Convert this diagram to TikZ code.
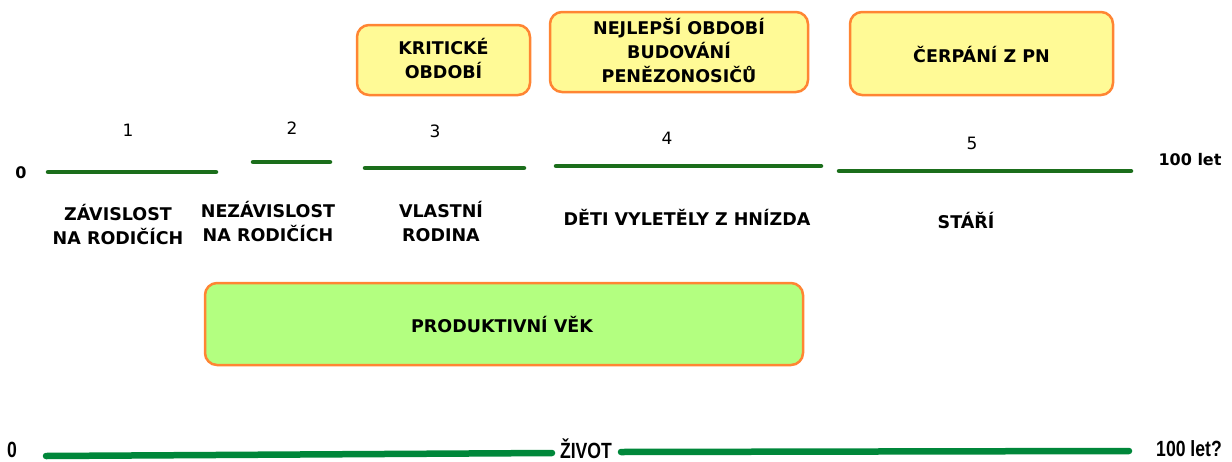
\documentclass[tikz,border=0pt]{standalone}
\usepackage{fontspec}
\setmainfont{DejaVu Sans}
\newfontfamily\arialf{Liberation Sans}
\definecolor{lineg}{HTML}{1B6E1B}
\definecolor{lifeg}{HTML}{00873A}
\definecolor{boxy}{HTML}{FFFA96}
\definecolor{boxg}{HTML}{B3FF80}
\definecolor{boxo}{HTML}{FF8533}
\begin{document}
\begin{tikzpicture}[x=1pt,y=-1pt,
  phase/.style={line width=4.5pt,draw=lineg,line cap=round},
  life/.style={line width=6.5pt,draw=lifeg,line cap=round},
  lbl/.style={font=\fontsize{17.5}{24}\selectfont\bfseries,align=center,inner sep=0pt},
  num/.style={font=\fontsize{17}{19}\selectfont,inner sep=0pt},
  bx/.style={draw=boxo,line width=2.5pt,rounded corners=12pt,fill=boxy},
  bottom/.style={font=\arialf\fontsize{22}{26}\selectfont\bfseries,inner sep=0pt}]
\useasboundingbox (0,0) rectangle (1232,461);
% top boxes
\draw[bx] (357,25) rectangle (530,95);
\node[lbl] (krit) at (443.5,59) {KRITICKÉ\\OBDOBÍ};
\draw[bx] (550,12) rectangle (808,92);
\node[lbl] (nejl) at (679,51) {NEJLEPŠÍ OBDOBÍ\\BUDOVÁNÍ\\PENĚZONOSIČŮ};
\draw[bx] (850,12) rectangle (1113,95);
\node[lbl] (cerp) at (981.5,55) {ČERPÁNÍ Z PN};
% productive age
\draw[bx,fill=boxg] (205,283) rectangle (803,365);
\node[lbl] (prod) at (502,325) {PRODUKTIVNÍ VĚK};
% phase lines
\coordinate (a1) at (48,172); \coordinate (b1) at (216,172);
\coordinate (a2) at (253,162); \coordinate (b2) at (330,162);
\coordinate (a3) at (365,168); \coordinate (b3) at (524,168);
\coordinate (a4) at (556,166); \coordinate (b4) at (821,166);
\coordinate (a5) at (839,171); \coordinate (b5) at (1131,171);
\draw[phase] (a1) -- (b1);
\draw[phase] (a2) -- (b2);
\draw[phase] (a3) -- (b3);
\draw[phase] (a4) -- (b4);
\draw[phase] (a5) -- (b5);
\node[num] (n1) at (128,130) {1};
\node[num] (n2) at (292,128) {2};
\node[num] (n3) at (435,131) {3};
\node[num] (n4) at (667,138) {4};
\node[num] (n5) at (972,143) {5};
\node[lbl,font=\fontsize{16}{20}\selectfont\bfseries] (zero) at (21,173) {0};
\node[lbl,font=\fontsize{16}{20}\selectfont\bfseries] (hund) at (1190,160) {100 let};
\node[lbl] (l1) at (118,225) {ZÁVISLOST\\NA RODIČÍCH};
\node[lbl] (l2) at (268,222) {NEZÁVISLOST\\NA RODIČÍCH};
\node[lbl] (l3) at (441,222) {VLASTNÍ\\RODINA};
\node[lbl] (l4) at (687,217) {DĚTI VYLETĚLY Z HNÍZDA};
\node[lbl] (l5) at (966,221) {STÁŘÍ};
% life line
\node[bottom] (z0) at (12,450) {\scalebox{0.8}[1]{0}};
\node[bottom] (zivot) at (586,449) {\scalebox{0.8}[1]{ŽIVOT}};
\node[bottom] (z100) at (1189,449) {\scalebox{0.8}[1]{100 let?}};
\coordinate (la) at (46,456);
\coordinate (lm1) at (552,453);
\coordinate (lm2) at (621,452);
\coordinate (lb) at (1129,451);
\draw[life] (la) -- (lm1);
\draw[life] (lm2) -- (lb);
\end{tikzpicture}
\end{document}
